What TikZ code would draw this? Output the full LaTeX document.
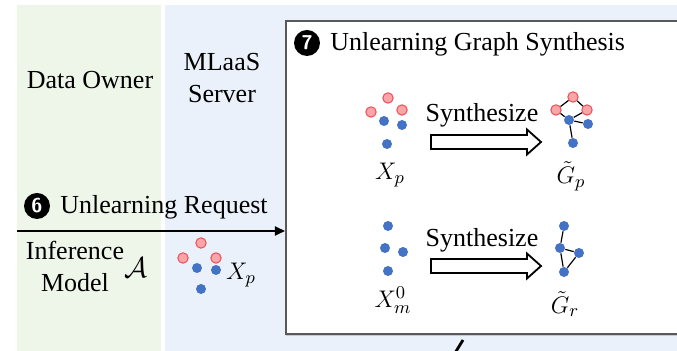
\documentclass[tikz,border=0pt]{standalone}
\usepackage{fontspec}
\setmainfont{Liberation Serif}
\usetikzlibrary{arrows.meta,shadows,positioning}

\definecolor{ownergreen}{RGB}{238,245,233}
\definecolor{serverblue}{RGB}{234,241,250}
\definecolor{ptred}{RGB}{236,78,88}
\definecolor{ptpink}{RGB}{250,165,168}
\definecolor{ptblue}{RGB}{68,114,196}

\tikzset{
  txt/.style={font=\fontsize{13}{16}\selectfont, inner sep=0pt},
  rdot/.style={circle, draw=ptred, fill=ptpink, line width=0.5pt, inner sep=0pt, minimum size=5.2pt},
  bdot/.style={circle, fill=ptblue, inner sep=0pt, minimum size=5pt},
  stepnum/.style={circle, fill=black, text=white, inner sep=0pt, minimum size=13pt, font=\sffamily\bfseries},
  gedge/.style={line width=0.6pt},
  pics/synarrow/.style={code={
    \draw[line width=0.9pt, fill=white] (-55,-7) -- (41,-7) -- (41,-12.5) -- (55,0)
      -- (41,12.5) -- (41,7) -- (-55,7) -- cycle;
  }},
}

\begin{document}
\begin{tikzpicture}[x=0.5pt,y=-0.5pt]
  \useasboundingbox (0,0) rectangle (677,351);
  % panels
  \fill[ownergreen] (17,5) rectangle (161,351);
  \fill[serverblue] (165,5) rectangle (677,351);
  \node[txt] (owner) at (90,80) {Data Owner};
  \node[txt, align=center] (server) at (222,78) {MLaaS\\Server};

  % synthesis box
  \node[draw=black!65, line width=0.8pt, fill=white, inner sep=0pt, anchor=north west,
    minimum width=205pt, minimum height=156.5pt,
    drop shadow={shadow xshift=0pt, shadow yshift=-1.2pt, opacity=0.35}] (synbox) at (285,20) {};

  % step 6
  \node[stepnum] (s6) at (37,206) {6};
  \node[txt, anchor=west] (req) at (60,207) {Unlearning Request};
  \coordinate (reqstart) at (17,231);
  \draw[line width=0.9pt, -{Triangle[length=5pt,width=4.5pt]}] (reqstart) -- (reqstart -| synbox.west);

  \node[txt, align=center] (infer) at (75,266) {Inference\\Model};
  \node[txt, scale=1.2] (algo) at (136,268) {$\mathcal{A}$};

  \node[rdot] (a1) at (201,243) {};
  \node[rdot] (a2) at (183,258) {};
  \node[rdot] (a3) at (216,258) {};
  \node[bdot] (a4) at (197,268) {};
  \node[bdot] (a5) at (216,270) {};
  \node[bdot] (a6) at (201,289) {};
  \node[txt] (xpa) at (241,275) {$X_p$};

  % step 7
  \node[stepnum] (s7) at (307,43) {7};
  \node[txt, anchor=west] (title) at (330,44) {Unlearning Graph Synthesis};

  % forget nodes
  \node[rdot] (x1) at (388,98) {};
  \node[rdot] (x2) at (371,112) {};
  \node[rdot] (x3) at (402,110) {};
  \node[bdot] (x4) at (384,121) {};
  \node[bdot] (x5) at (402,125) {};
  \node[bdot] (x6) at (387,144) {};
  \node[txt] (xp) at (390,175) {$X_p$};

  \pic at (486,142) {synarrow};
  \node[txt] (syn1) at (482,115) {Synthesize};

  \node[rdot] (p1) at (573,97) {};
  \node[rdot] (p2) at (556,110) {};
  \node[rdot] (p3) at (587,110) {};
  \node[bdot] (p4) at (569,120) {};
  \node[bdot] (p5) at (588,124) {};
  \node[bdot] (p6) at (573,143) {};
  \draw[gedge] (p1) -- (p2) (p1) -- (p3) (p2) -- (p4) (p3) -- (p4)
    (p4) -- (p5) (p4) -- (p6);
  \node[txt] (gp) at (571,176) {$\tilde{G}_p$};

  % remaining nodes
  \node[bdot] (m1) at (388,226) {};
  \node[bdot] (m2) at (385,248) {};
  \node[bdot] (m3) at (403,252) {};
  \node[bdot] (m4) at (388,271) {};
  \node[txt] (xm) at (393,300) {$X_m^0$};

  \pic at (486,266) {synarrow};
  \node[txt] (syn2) at (482,240) {Synthesize};

  \node[bdot] (r1) at (564,226) {};
  \node[bdot] (r2) at (560,248) {};
  \node[bdot] (r3) at (579,253) {};
  \node[bdot] (r4) at (564,272) {};
  \draw[gedge] (r1) -- (r2) (r2) -- (r3) (r2) -- (r4) (r3) -- (r4);
  \node[txt] (gr) at (565,304) {$\tilde{G}_r$};

  % cut-off arrow below
  \coordinate (cutA) at (455,353);
  \coordinate (cutB) at (463,340);
  \draw[line width=1.4pt] (cutA) -- (cutB);
\end{tikzpicture}
\end{document}
